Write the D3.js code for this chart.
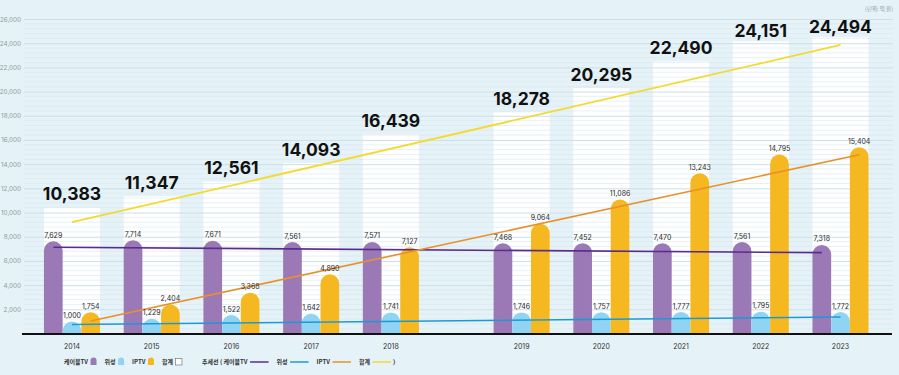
<!DOCTYPE html>
<html>
<head>
<meta charset="utf-8">
<script src="https://cdn.jsdelivr.net/npm/d3@7"></script>
<style>
  body { margin: 0; background: #e5f2f7; }
  svg { display: block; }
  text { font-family: Inter, Roboto, "Noto Sans CJK KR", sans-serif; }
  .kr { font-family: "Noto Sans CJK KR", sans-serif; }
</style>
</head>
<body>
<svg id="chart"></svg>
<script>
// data (unit: 억 원)
const years = [2014, 2015, 2016, 2017, 2018, 2019, 2020, 2021, 2022, 2023];
const cable = [7629, 7714, 7671, 7561, 7571, 7468, 7452, 7470, 7561, 7318];
const satellite = [1000, 1229, 1522, 1642, 1741, 1746, 1757, 1777, 1795, 1772];
const iptv = [1754, 2404, 3368, 4890, 7127, 9064, 11086, 13243, 14795, 15404];
const totals = [10383, 11347, 12561, 14093, 16439, 18278, 20295, 22490, 24151, 24494];
// trend line values at first / last year
const trendNames = ['케이블TV', '위성', 'IPTV', '합계'];
const trendStart = [7132, 740, 1041, 9198];
const trendEnd = [6686, 1360, 14785, 23851];
const yTicks = [2000, 4000, 6000, 8000, 10000, 12000, 14000, 16000, 18000, 20000, 22000, 24000, 26000];

const W = 899, H = 375;
const colors = {
  cable: '#9a79b6', sat: '#8fd4f3', iptv: '#f5b820',
  tCable: '#5b2c8c', tSat: '#1b9ad8', tIptv: '#e8912a', tTotal: '#f3da2e'
};

const svg = d3.select('#chart').attr('width', W).attr('height', H);

// there's a wider gap between 2018 and 2019 in the original
const gapYear = 2019, gapSlots = 0.64;
const slot = (yr, i) => i + (yr >= gapYear ? gapSlots : 0);
const x = d3.scaleLinear().domain([0, years.length - 1 + gapSlots]).range([72, 840.5]);
const y = d3.scaleLinear().domain([0, 26000]).range([333.5, 19]);
const bw = 18.7;
const left = 24, right = 893;

const g = svg.append('g');

// white total columns
g.selectAll('.total-bg')
  .data(years)
  .join('rect')
    .attr('class', 'total-bg')
    .attr('x', (d, i) => x(slot(d, i)) - bw * 1.5)
    .attr('width', bw * 3)
    .attr('y', (d, i) => y(totals[i]))
    .attr('height', (d, i) => y(0) - y(totals[i]))
    .attr('fill', '#ffffff');

// grid
g.selectAll('.minor')
  .data(d3.range(400, 26001, 400).filter(v => v % 2000 !== 0))
  .join('line')
    .attr('x1', left).attr('x2', right)
    .attr('y1', d => y(d)).attr('y2', d => y(d))
    .attr('stroke', '#d6e7ee').attr('stroke-width', 0.6);

const yAxis = d3.axisLeft(y)
  .tickValues(yTicks)
  .tickSize(-(right - left))
  .tickPadding(3)
  .tickFormat(d3.format(','));

g.append('g')
  .attr('transform', `translate(${left},0)`)
  .call(yAxis)
  .call(a => a.select('.domain').remove())
  .call(a => a.selectAll('.tick line').attr('stroke', '#cbdfe8').attr('stroke-width', 1))
  .call(a => a.selectAll('.tick text')
    .attr('fill', '#8d9ba3')
    .attr('font-size', 6.3)
    .style('font-family', 'Inter, Roboto, sans-serif'));

// rounded-top bar path
function barPath(cx, v) {
  const r = bw / 2, x0 = cx - r, top = y(v), base = y(0);
  return `M${x0},${base}V${top + r}A${r},${r} 0 0 1 ${x0 + bw},${top + r}V${base}Z`;
}

const series = [
  {vals: cable, off: -1, color: colors.cable},
  {vals: satellite, off: 0, color: colors.sat},
  {vals: iptv, off: 1, color: colors.iptv}
];

series.forEach(s => {
  g.selectAll(null)
    .data(years)
    .join('path')
      .attr('d', (d, i) => barPath(x(slot(d, i)) + s.off * bw, s.vals[i]))
      .attr('fill', s.color);
});

// baseline
g.append('line')
  .attr('x1', 22).attr('x2', 892)
  .attr('y1', y(0) + 0.5).attr('y2', y(0) + 0.5)
  .attr('stroke', '#111').attr('stroke-width', 2);

// trend lines
const trendCols = [colors.tCable, colors.tSat, colors.tIptv, colors.tTotal];
const trendOff = [-1, 0, 1, 0];
const last = years.length - 1;
trendNames.forEach((n, k) => {
  g.append('line')
    .attr('x1', x(slot(years[0], 0)) + trendOff[k] * bw)
    .attr('x2', x(slot(years[last], last)) + trendOff[k] * bw)
    .attr('y1', y(trendStart[k]))
    .attr('y2', y(trendEnd[k]))
    .attr('stroke', trendCols[k])
    .attr('stroke-width', k === 3 ? 1.8 : 1.6);
});

// value labels
const fmt = d3.format(',');
series.forEach(s => {
  g.selectAll(null)
    .data(years)
    .join('text')
      .attr('x', (d, i) => x(slot(d, i)) + s.off * bw)
      .attr('y', (d, i) => y(s.vals[i]) - 3.5)
      .attr('text-anchor', 'middle')
      .attr('font-size', 7)
      .attr('fill', '#2b2b2b')
      .text((d, i) => fmt(s.vals[i]));
});

// totals
g.selectAll('.total-lbl')
  .data(years)
  .join('text')
    .attr('class', 'total-lbl')
    .attr('x', (d, i) => x(slot(d, i)))
    .attr('y', (d, i) => y(totals[i]) - (totals[i] > 24000 ? 4.5 : 7.5))
    .attr('text-anchor', 'middle')
    .attr('font-size', 17.5)
    .attr('font-weight', 700)
    .attr('fill', '#111')
    .text((d, i) => fmt(totals[i]));

// year labels
g.selectAll('.yr')
  .data(years)
  .join('text')
    .attr('x', (d, i) => x(slot(d, i)))
    .attr('y', 348.5)
    .attr('text-anchor', 'middle')
    .attr('font-size', 7)
    .attr('fill', '#333')
    .text(d => d);

// unit
svg.append('text')
  .attr('class', 'kr')
  .attr('x', 893).attr('y', 11)
  .attr('text-anchor', 'end')
  .attr('font-size', 5.5)
  .attr('fill', '#8d9ba3')
  .text('(단위: 억 원)');

// legend
const lg = svg.append('g').attr('transform', 'translate(64,364)');
let lx = 0;
function legText(t) {
  const el = lg.append('text').attr('class', 'kr')
    .attr('x', lx).attr('y', 0)
    .attr('font-size', 6).attr('font-weight', 700).attr('fill', '#333')
    .text(t);
  lx += el.node().getComputedTextLength() + 2.5;
}
function legBar(color, stroke) {
  lg.append('path')
    .attr('d', `M${lx},1V-3.5A3,3 0 0 1 ${lx + 6},-3.5V1Z`)
    .attr('fill', color).attr('stroke', stroke || 'none').attr('stroke-width', 0.6);
  lx += 6 + 8;
}
function legLine(color) {
  lg.append('line')
    .attr('x1', lx).attr('x2', lx + 18.5).attr('y1', -2).attr('y2', -2)
    .attr('stroke', color).attr('stroke-width', 1.5);
  lx += 18.5 + 8;
}
legText('케이블TV'); legBar(colors.cable);
legText('위성'); legBar(colors.sat);
legText('IPTV'); legBar(colors.iptv);
legText('합계');
lg.append('rect').attr('x', lx).attr('y', -5.5).attr('width', 6.5).attr('height', 6.5)
  .attr('fill', '#fff').attr('stroke', '#666').attr('stroke-width', 0.6);
lx += 6.5 + 20;
legText('추세선 ( 케이블TV'); legLine(colors.tCable);
legText('위성'); legLine(colors.tSat);
legText('IPTV'); legLine(colors.tIptv);
legText('합계'); legLine(colors.tTotal);
lx -= 6;
legText(')');
</script>
</body>
</html>
